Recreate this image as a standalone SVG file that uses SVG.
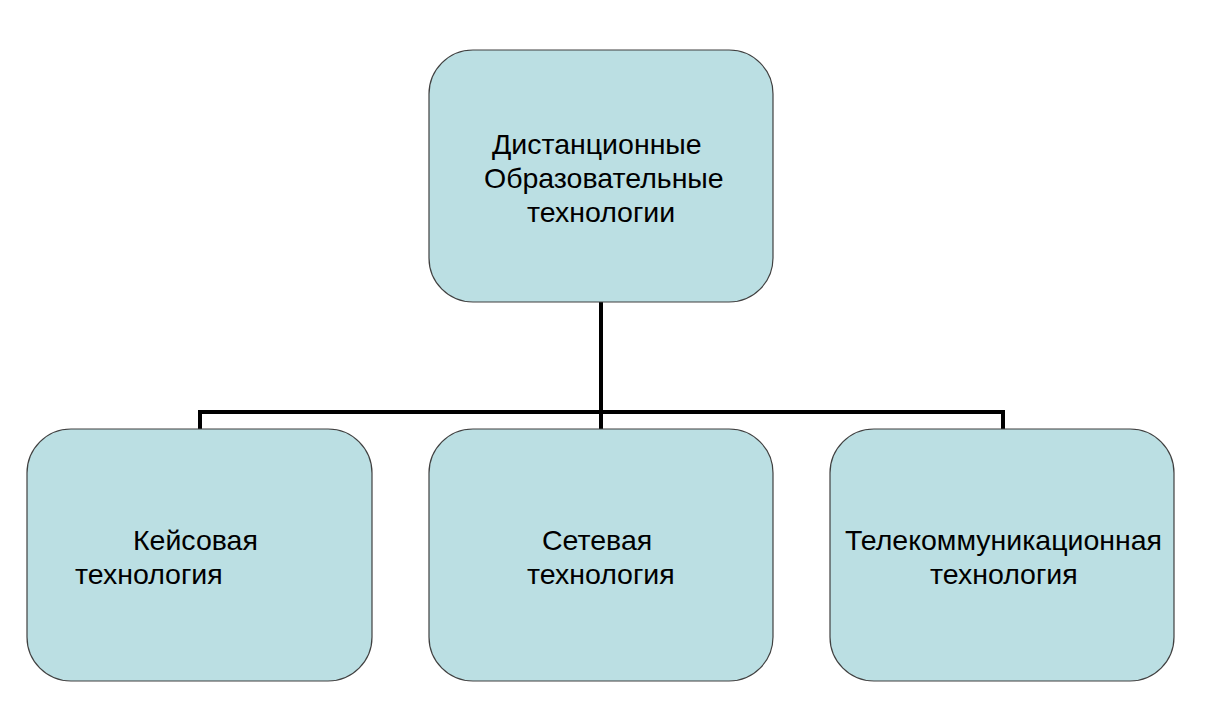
<svg xmlns="http://www.w3.org/2000/svg" width="1208" height="702" viewBox="0 0 1208 702">
<style>
.box{fill:#BBDFE3;stroke:#404040;stroke-width:1.2}
.t{font-family:"Liberation Sans",Arial,sans-serif;font-size:28.5px;fill:#000}
.c{fill:none;stroke:#000;stroke-width:4}
</style>
<rect width="1208" height="702" fill="#fff"/>
<g id="connectors">
<path class="c" d="M601 302V412M200 429V412H1003V429M601 412V429"/>
</g>
<g id="root">
<rect class="box" x="429" y="50" width="344" height="252" rx="44"/>
<text class="t" x="492" y="154">Дистанционные</text>
<text class="t" x="484" y="188">Образовательные</text>
<text class="t" x="527" y="222">технологии</text>
</g>
<g id="case">
<rect class="box" x="27" y="429" width="345" height="252" rx="44"/>
<text class="t" x="133" y="550">Кейсовая</text>
<text class="t" x="75" y="584">технология</text>
</g>
<g id="network">
<rect class="box" x="429" y="429" width="344" height="252" rx="44"/>
<text class="t" x="542" y="550">Сетевая</text>
<text class="t" x="527" y="584">технология</text>
</g>
<g id="telecom">
<rect class="box" x="830" y="429" width="344" height="252" rx="44"/>
<text class="t" x="845" y="550">Телекоммуникационная</text>
<text class="t" x="930" y="584">технология</text>
</g>
</svg>
